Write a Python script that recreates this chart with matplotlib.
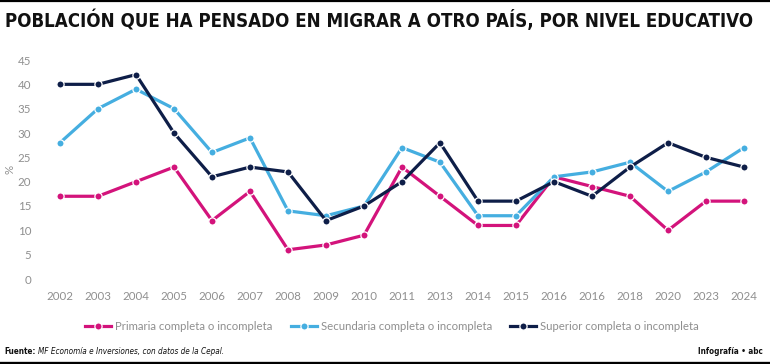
import os
import matplotlib
matplotlib.use("Agg")
import matplotlib.pyplot as plt
from matplotlib.lines import Line2D
from matplotlib import font_manager as fm
from matplotlib.font_manager import FontProperties

years = ["2002", "2003", "2004", "2005", "2006", "2007", "2008", "2009", "2010",
         "2011", "2013", "2014", "2015", "2016", "2016", "2018", "2020", "2023", "2024"]
primaria = [17, 17, 20, 23, 12, 18, 6, 7, 9, 23, 17, 11, 11, 21, 19, 17, 10, 16, 16]
secundaria = [28, 35, 39, 35, 26, 29, 14, 13, 15, 27, 24, 13, 13, 21, 22, 24, 18, 22, 27]
superior = [40, 40, 42, 30, 21, 23, 22, 12, 15, 20, 28, 16, 16, 20, 17, 23, 28, 25, 23]
series_names = ["Primaria completa o incompleta", "Secundaria completa o incompleta",
                "Superior completa o incompleta"]
colors = ["#D3137B", "#45AEE0", "#0E1E48"]
y_ticks = [0, 5, 10, 15, 20, 25, 30, 35, 40, 45]

title = "POBLACIÓN QUE HA PENSADO EN MIGRAR A OTRO PAÍS, POR NIVEL EDUCATIVO"
source_label = "Fuente:"
source_text = "MF Economía e Inversiones, con datos de la Cepal."
credit = "Infografía • abc"


def is_cond(f):
    b = os.path.basename(f.fname).lower()
    return (f.stretch in ("condensed", "semi-condensed", "extra-condensed", "ultra-condensed")
            or "narrow" in f.name.lower() or "condensed" in f.name.lower()
            or "condensed" in b or "narrow" in b)


def wnum(w):
    if isinstance(w, int):
        return w
    return {"bold": 700, "normal": 400, "regular": 400, "semibold": 600,
            "demibold": 600, "medium": 500, "light": 300, "heavy": 800,
            "black": 900}.get(str(w).lower(), 400)


conds = [f for f in fm.fontManager.ttflist if is_cond(f) and f.fname.lower().endswith((".ttf", ".otf"))]


def pick(bold, italic):
    best = None
    for f in conds:
        w = wnum(f.weight)
        it = f.style in ("italic", "oblique")
        if it != italic:
            continue
        score = abs(w - (700 if bold else 400))
        if best is None or score < best[0]:
            best = (score, f.fname)
    return best[1] if best else None


def fp(bold, italic, size):
    p = pick(bold, italic)
    if p:
        return FontProperties(fname=p, size=size)
    return FontProperties(family="DejaVu Sans", weight="bold" if bold else "normal",
                          style="italic" if italic else "normal", size=size)


names = {f.name for f in fm.fontManager.ttflist}
body = "Lato" if "Lato" in names else "DejaVu Sans"

W, H = 770, 364
fig = plt.figure(figsize=(W / 100, H / 100), dpi=100)
fig.patch.set_facecolor("white")

step = (744 - 60) / 18
left_px = 60 - 0.5 * step
right_px = 744 + 0.5 * step
ax = fig.add_axes([left_px / W, (H - 279) / H, (right_px - left_px) / W, (279 - 60) / H])
ax.set_xlim(-0.5, 18.5)
ax.set_ylim(0, 45)

x = list(range(len(years)))
for vals, c, z in zip([primaria, secundaria, superior], colors, [3, 4, 5]):
    ax.plot(x, vals, color=c, lw=2.3, marker="o", ms=5.2, mfc=c, mec="white",
            mew=0.9, zorder=z, clip_on=False)

for s in ax.spines.values():
    s.set_visible(False)
ax.set_xticks(x)
ax.set_xticklabels(years)
ax.set_yticks(y_ticks)
ax.tick_params(length=0, labelsize=8.3, labelcolor="#8f8f8f")
ax.tick_params(axis="x", pad=9)
ax.tick_params(axis="y", pad=7)
for lab in ax.get_xticklabels() + ax.get_yticklabels():
    lab.set_fontfamily(body)
ax.set_ylabel("%", fontsize=8.3, color="#8f8f8f", family=body, labelpad=2)

handles = [Line2D([0], [0], color=c, lw=2.3, marker="o", ms=5.2, mfc=c, mec="white", mew=0.9)
           for c in colors]
leg = fig.legend(handles, series_names, ncol=3, loc="center",
                 bbox_to_anchor=(392 / W, 1 - 326 / H), frameon=False,
                 prop={"family": body, "size": 8.2}, handlelength=2.3,
                 handletextpad=0.35, columnspacing=1.6, borderpad=0)
for t in leg.get_texts():
    t.set_color("#8f8f8f")

fig.canvas.draw()
r = fig.canvas.get_renderer()

t = fig.text(5 / W, 1 - 20 / H, title, ha="left", va="center",
             fontproperties=fp(True, False, 16), color="#111111")
wpx = t.get_window_extent(r).width
t.set_fontsize(16 * (752 / wpx))

fig.add_artist(Line2D([0, 1], [1 - 1 / H, 1 - 1 / H], transform=fig.transFigure,
                      color="black", lw=1.6))
fig.add_artist(Line2D([0, 1], [1.5 / H, 1.5 / H], transform=fig.transFigure,
                      color="black", lw=2.4))

fy = 1 - 352 / H
f1 = fig.text(4 / W, fy, source_label, ha="left", va="center",
              fontproperties=fp(True, False, 7.5), color="#111111")
f2 = fig.text(0, fy, source_text, ha="left", va="center",
              fontproperties=fp(False, True, 7.5), color="#111111")
fig.canvas.draw()
b1 = f1.get_window_extent(r)
b2 = f2.get_window_extent(r)
total = (b1.width + 3 + b2.width)
scale = min(1.0, 218 / total)
f1.set_fontsize(7.5 * scale)
f2.set_fontsize(7.5 * scale)
fig.canvas.draw()
b1 = f1.get_window_extent(r)
f2.set_x((b1.x1 + 3) / W)
f3 = fig.text(763 / W, fy, credit, ha="right", va="center",
              fontproperties=fp(True, False, 7.5 * scale), color="#111111")

fig.savefig("out.png", dpi=100, facecolor="white")
